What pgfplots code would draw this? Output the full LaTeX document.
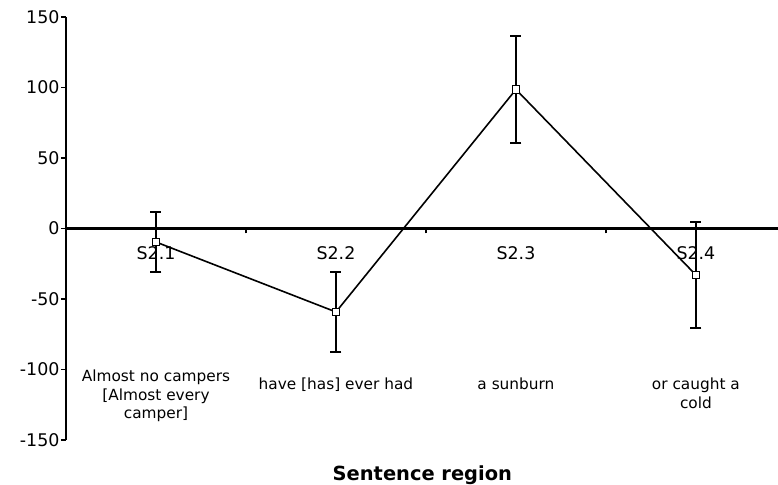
\documentclass[border=0pt]{standalone}
\usepackage{pgfplots}
\pgfplotsset{compat=1.18}
\usepackage{fontspec}
\setmainfont{DejaVu Sans}
\begin{document}
\begin{tikzpicture}
\begin{axis}[name=ax, at={(0,0)}, anchor=south west,
  scale only axis, width=712bp, height=423bp,
  xmin=0, xmax=3.956, ymin=-150, ymax=150,
  axis x line=middle, axis y line=left,
  axis line style={-, line width=2.4bp},
  clip=false,
  ytick={-150,-100,...,150},
  xtick={0.5,1.5,2.5,3.5}, xticklabels={S2.1,S2.2,S2.3,S2.4},
  major x tick style={draw=none},
  minor xtick={1,2,3},
  minor tick length=5bp, major tick length=5bp,
  tick align=outside,
  every tick/.style={black, line width=1.5bp},
  hide obscured y ticks=false,
  /pgf/number format/assume math mode=true,
  ticklabel style={font=\fontsize{17.5}{21}\selectfont},
  yticklabel style={xshift=2bp},
  xticklabel style={yshift=-10bp},
]
\addplot[black, line width=1.6bp, mark=square*, mark size=3.8bp,
  mark options={fill=white, solid, line width=1.2bp},
  error bars/.cd, y dir=both, y explicit,
  error bar style={line width=2bp},
  error mark options={rotate=90, mark size=5.5bp, line width=2bp}]
  table[x=x, y=y, y error=e]{
x y e
0.5 -9.6 21.1
1.5 -59.2 28.4
2.5 98.6 38.0
3.5 -33.0 37.4
};
\begin{scope}[every node/.style={anchor=base, inner sep=0pt, font=\fontsize{15.4}{18.5}\selectfont}]
\node at (axis cs:0.5,-108.2) {Almost no campers};
\node at (axis cs:0.5,-121.7) {[Almost every};
\node at (axis cs:0.5,-134.5) {camper]};
\node at (axis cs:1.5,-113.9) {have [has] ever had};
\node at (axis cs:2.5,-113.9) {a sunburn};
\node at (axis cs:3.5,-113.9) {or caught a};
\node at (axis cs:3.5,-127.4) {cold};
\end{scope}
\node[anchor=base, inner sep=0pt, font=\fontsize{19.5}{23}\selectfont\bfseries] at (axis cs:1.98,-178.5) {Sentence region};
\end{axis}
\pgfresetboundingbox
\path[use as bounding box] ([shift={(-66bp,-45bp)}]ax.south west) rectangle ([shift={(712bp,440bp)}]ax.south west);
\end{tikzpicture}
\end{document}
